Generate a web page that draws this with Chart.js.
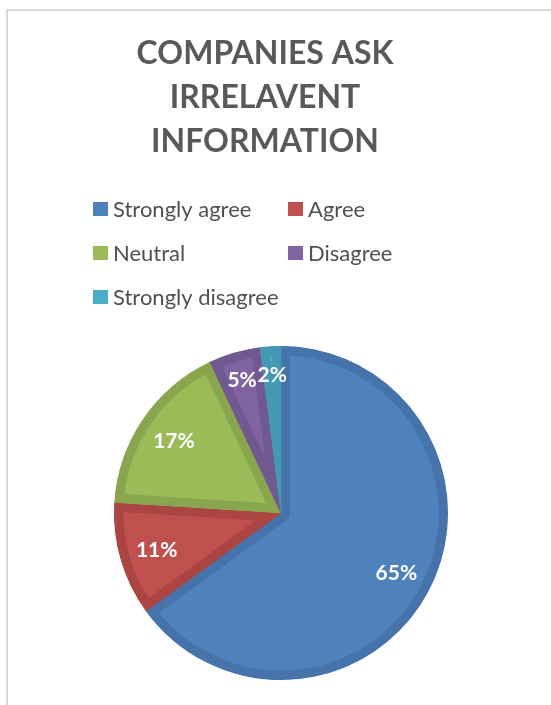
<!DOCTYPE html>
<html>
<head>
<meta charset="utf-8">
<title>Companies ask irrelavent information</title>
<script src="https://cdn.jsdelivr.net/npm/chart.js@4/dist/chart.umd.min.js"></script>
<style>
  html, body { margin: 0; padding: 0; background: #ffffff; }
  #frame { position: absolute; left: 0; top: 0; width: 551px; height: 705px; overflow: hidden; }
  #frame::before {
    content: ''; position: absolute; left: 6px; top: 9px; right: 0; bottom: 0;
    border-left: 2px solid #d9d9d9; border-top: 2px solid #d9d9d9; pointer-events: none;
  }
  canvas { position: absolute; left: 0; top: 0; }
</style>
</head>
<body>
<div id="frame"><canvas id="chart" width="551" height="705"></canvas></div>
<script>
// Survey answers (percent of respondents)
const titleLines = ['COMPANIES ASK', 'IRRELAVENT', 'INFORMATION'];
const categories = ['Strongly agree', 'Agree', 'Neutral', 'Disagree', 'Strongly disagree'];
const shares = [65, 11, 17, 5, 2];
const fillColors = ['#4F81BD', '#C0504D', '#9BBB59', '#8064A2', '#4BACC6'];
const edgeColors = ['#4673AA', '#AA4542', '#89A64E', '#715891', '#4299B1'];

const TEXT_GREY = '#595959';

// Title and two-column legend drawn above the pie
const headerPlugin = {
  id: 'header',
  afterDraw(chart) {
    const ctx = chart.ctx;
    ctx.save();
    ctx.fillStyle = TEXT_GREY;
    ctx.textAlign = 'center';
    ctx.textBaseline = 'middle';
    ctx.font = 'bold 32px Lato';
    titleLines.forEach((line, i) => ctx.fillText(line, 265, 54 + i * 44));

    const colX = [93, 288];
    const rowY = [209, 253, 297];
    ctx.font = '22px Lato';
    ctx.textAlign = 'left';
    categories.forEach((name, i) => {
      const x = colX[i % 2];
      const y = rowY[Math.floor(i / 2)];
      ctx.fillStyle = fillColors[i];
      ctx.fillRect(x, y - 7, 15, 14);
      ctx.fillStyle = '#505050';
      ctx.fillText(name, x + 20, y + 1);
    });
    ctx.restore();
  }
};

// Percent labels placed inside each slice along its bisector
const sliceLabels = {
  id: 'sliceLabels',
  afterDatasetsDraw(chart) {
    const ctx = chart.ctx;
    const meta = chart.getDatasetMeta(0);
    const values = chart.data.datasets[0].data;
    ctx.save();
    ctx.fillStyle = '#ffffff';
    ctx.font = 'bold 21px Lato';
    ctx.textAlign = 'center';
    ctx.textBaseline = 'middle';
    meta.data.forEach((arc, i) => {
      const p = arc.getProps(['x', 'y', 'startAngle', 'endAngle', 'outerRadius'], true);
      const sweep = p.endAngle - p.startAngle;
      const mid = p.startAngle + sweep / 2;
      const r = p.outerRadius * (sweep < 0.5 ? 0.835 : 0.775);
      ctx.fillText(values[i] + '%', p.x + Math.cos(mid) * r, p.y + Math.sin(mid) * r + 1);
    });
    ctx.restore();
  }
};

new Chart(document.getElementById('chart'), {
  type: 'pie',
  data: {
    labels: categories,
    datasets: [{
      data: shares,
      backgroundColor: fillColors,
      borderColor: edgeColors,
      borderWidth: 9,
      borderAlign: 'inner'
    }]
  },
  options: {
    responsive: false,
    animation: false,
    events: [],
    devicePixelRatio: 1,
    layout: { padding: { left: 114, right: 103, top: 346, bottom: 25 } },
    plugins: {
      legend: { display: false },
      title: { display: false },
      tooltip: { enabled: false }
    }
  },
  plugins: [headerPlugin, sliceLabels]
});
</script>
</body>
</html>
